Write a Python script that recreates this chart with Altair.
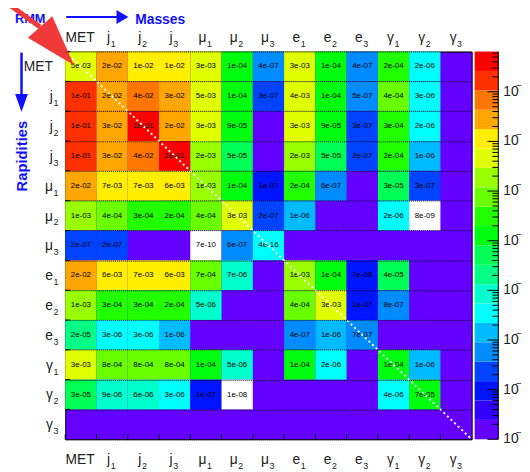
import altair as alt
import pandas as pd

FONT = "Liberation Sans"
LABEL_COLOR = "#222222"
BLUE = "#1010ff"
RED = "#f03a3a"

# ---------------- data ----------------
categories = ["MET", "j1", "j2", "j3", "μ1", "μ2", "μ3", "e1", "e2", "e3", "γ1", "γ2", "γ3"]
label_base = ["MET", "j", "j", "j", "μ", "μ", "μ", "e", "e", "e", "γ", "γ", "γ"]
label_sub = ["", "1", "2", "3", "1", "2", "3", "1", "2", "3", "1", "2", "3"]

N = None
row_MET = [5e-3, 2e-2, 1e-2, 1e-2, 3e-3, 1e-4, 4e-7, 3e-3, 1e-4, 4e-7, 2e-4, 2e-6, N]
row_j1 = [1e-1, 2e-2, 4e-2, 3e-2, 5e-3, 1e-4, 3e-7, 4e-3, 1e-4, 5e-7, 4e-4, 3e-6, N]
row_j2 = [1e-1, 3e-2, 2e-1, 2e-2, 3e-3, 9e-5, N, 3e-3, 9e-5, 3e-7, 3e-4, 2e-6, N]
row_j3 = [1e-1, 3e-2, 4e-2, 2e-1, 2e-3, 5e-5, N, 2e-3, 5e-5, 2e-7, 2e-4, 1e-6, N]
row_mu1 = [2e-2, 7e-3, 7e-3, 6e-3, 1e-3, 1e-4, 1e-7, 2e-4, 6e-7, N, 3e-5, 3e-7, N]
row_mu2 = [1e-3, 4e-4, 3e-4, 2e-4, 4e-4, 3e-3, 2e-7, 1e-6, N, N, 2e-6, 8e-9, N]
row_mu3 = [2e-7, 2e-7, N, N, 7e-10, 6e-7, 4e-16, N, N, N, N, N, N]
row_e1 = [2e-2, 6e-3, 7e-3, 6e-3, 7e-4, 7e-6, N, 1e-3, 1e-4, 7e-8, 4e-5, N, N]
row_e2 = [1e-3, 3e-4, 3e-4, 2e-4, 5e-6, N, N, 4e-4, 3e-3, 1e-7, 8e-7, N, N]
row_e3 = [2e-5, 3e-6, 3e-6, 1e-6, N, N, N, 4e-7, 1e-6, 7e-7, N, N, N]
row_g1 = [3e-3, 8e-4, 8e-4, 8e-4, 1e-4, 5e-6, N, 1e-4, 2e-6, N, 1e-4, 1e-6, N]
row_g2 = [3e-5, 9e-6, 6e-6, 3e-6, 1e-7, 1e-8, N, N, N, N, 4e-6, 7e-5, N]
row_g3 = [N] * 13
rows = [row_MET, row_j1, row_j2, row_j3, row_mu1, row_mu2, row_mu3,
        row_e1, row_e2, row_e3, row_g1, row_g2, row_g3]

# the (μ3, μ3) cell is drawn cyan in the reference although it prints 4e-16
color_override = {("μ3", "μ3"): 3e-6}

# colour bar (ROOT pretty palette, 20 contours, log z)
palette = ["#6300ff", "#3300ff", "#0014ff", "#0044ff", "#008bff", "#00bbff",
           "#00fffc", "#00ffcc", "#00ff85", "#00ff55", "#00ff0e", "#22ff00",
           "#69ff00", "#99ff00", "#e0ff00", "#ffee00", "#ffa700", "#ff7700",
           "#ff3000", "#ff0000"]
z_log_min = -7.98
band_w = 0.38
thresholds = [10 ** (z_log_min + k * band_w) for k in range(len(palette))]
color_range = ["white"] + palette

cb_log_min, cb_log_max = -8.0, -0.19
decade_exps = [-1, -2, -3, -4, -5, -6, -7, -8]
minor_mults = [2, 3, 4, 5, 6, 7, 8, 9]

# ---------------- tables ----------------
recs = []
for r, vals in zip(categories, rows):
    for c, v in zip(categories, vals):
        if v is None:
            continue
        recs.append(dict(row=r, col=c, v=v, z=color_override.get((r, c), v),
                         label=f"{v:.0e}"))
cells = pd.DataFrame(recs)

lab = pd.DataFrame({"cat": categories, "base": label_base, "sub": label_sub})

cb = pd.DataFrame({"k": list(range(len(palette)))})
cb["k1"] = cb["k"] + 1
cb["z"] = [10 ** (z_log_min + (k + 0.5) * band_w) for k in cb["k"]]

majors = pd.DataFrame({"t": [10.0 ** e for e in decade_exps],
                       "ten": ["10"] * len(decade_exps),
                       "exp": [f"−{-e}" for e in decade_exps]})
minor_vals = []
for e in decade_exps:
    for m in minor_mults:
        t = m * 10.0 ** e
        if t <= 10 ** cb_log_max:
            minor_vals.append(t)
minors = pd.DataFrame({"t": minor_vals})

one = pd.DataFrame({"a": [0]})

W, H = 412, 393


def band():
    return alt.Scale(type="band", domain=categories, paddingInner=0, paddingOuter=0)


cscale = alt.Scale(type="threshold", domain=thresholds, range=color_range)
grid_axis = alt.Axis(title=None, labels=False, ticks=False, domain=False, grid=True,
                     gridColor="black", gridDash=[1, 1], gridWidth=1, gridOpacity=0.85,
                     tickBand="extent", zindex=1)

heat = alt.Chart(cells).mark_rect().encode(
    x=alt.X("col:N", scale=band(), axis=grid_axis),
    y=alt.Y("row:N", scale=band(), axis=grid_axis),
    color=alt.Color("z:Q", scale=cscale, legend=None),
)

txt = alt.Chart(cells).mark_text(fontSize=8, font=FONT, color="black").encode(
    x=alt.X("col:N", scale=band(), axis=None),
    y=alt.Y("row:N", scale=band(), axis=None),
    text="label:N",
)

diag = alt.Chart(one).mark_rule(color="white", strokeWidth=2, strokeDash=[2, 3]).encode(
    x=alt.value(0), y=alt.value(0), x2=alt.value(W), y2=alt.value(H))

bot_ticks = alt.Chart(lab).mark_rule(color="black", strokeWidth=1).encode(
    x=alt.X("cat:N", scale=band(), axis=None, bandPosition=0),
    y=alt.value(H), y2=alt.value(H - 5))
left_ticks = alt.Chart(lab).mark_rule(color="black", strokeWidth=1).encode(
    y=alt.Y("cat:N", scale=band(), axis=None, bandPosition=0),
    x=alt.value(0), x2=alt.value(5))

# colour bar
CB_X0, CB_X1 = 415, 439
cb_rects = alt.Chart(cb).mark_rect().encode(
    y=alt.Y("k:Q", scale=alt.Scale(domain=[0, len(palette)], nice=False, zero=False), axis=None),
    y2="k1:Q",
    x=alt.value(CB_X0), x2=alt.value(CB_X1),
    color=alt.Color("z:Q", scale=cscale, legend=None),
)
logsc = alt.Scale(type="log", domain=[10 ** cb_log_min, 10 ** cb_log_max], nice=False)
cb_major = alt.Chart(majors).mark_rule(color="black", strokeWidth=1).encode(
    y=alt.Y("t:Q", scale=logsc, axis=None), x=alt.value(CB_X1 - 11), x2=alt.value(CB_X1))
cb_minor = alt.Chart(minors).mark_rule(color="black", strokeWidth=1).encode(
    y=alt.Y("t:Q", scale=logsc, axis=None), x=alt.value(CB_X1 - 6), x2=alt.value(CB_X1))
cb_line = alt.Chart(one).mark_rule(color="black", strokeWidth=1).encode(
    x=alt.value(CB_X1), y=alt.value(0), y2=alt.value(H))
cb_ten = alt.Chart(majors).mark_text(align="left", baseline="middle", fontSize=14,
                                     font=FONT, color=LABEL_COLOR).encode(
    y=alt.Y("t:Q", scale=logsc, axis=None), x=alt.value(CB_X1 + 5), text="ten:N")
cb_exp = alt.Chart(majors).mark_text(align="left", baseline="middle", fontSize=10, dy=-6,
                                     font=FONT, color=LABEL_COLOR).encode(
    y=alt.Y("t:Q", scale=logsc, axis=None), x=alt.value(CB_X1 + 18), text="exp:N")


# axis labels with subscripts
def hlabels(y_base, y_sub):
    out = []
    for bases, off in [(["MET"], 14), (["j"], -2), (["μ", "e", "γ"], 0.5)]:
        flt = alt.FieldOneOfPredicate(field="base", oneOf=bases)
        out.append(alt.Chart(lab).transform_filter(flt).mark_text(
            align="right", baseline="alphabetic", fontSize=14, font=FONT,
            color=LABEL_COLOR, dx=off).encode(
            x=alt.X("cat:N", scale=band(), axis=None), y=alt.value(y_base), text="base:N"))
        if bases != ["MET"]:
            out.append(alt.Chart(lab).transform_filter(flt).mark_text(
                align="left", baseline="alphabetic", fontSize=9, font=FONT,
                color=LABEL_COLOR, dx=off + 0.5).encode(
                x=alt.X("cat:N", scale=band(), axis=None), y=alt.value(y_sub), text="sub:N"))
    return out


top_labels = hlabels(-10, -5)
bottom_labels = hlabels(H + 25, H + 30)
left_base = alt.Chart(lab).mark_text(align="right", baseline="alphabetic", fontSize=14,
                                     font=FONT, color=LABEL_COLOR, dy=5).encode(
    y=alt.Y("cat:N", scale=band(), axis=None), x=alt.value(-12.5), text="base:N")
left_sub = alt.Chart(lab).mark_text(align="left", baseline="alphabetic", fontSize=9,
                                    font=FONT, color=LABEL_COLOR, dy=10).encode(
    y=alt.Y("cat:N", scale=band(), axis=None), x=alt.value(-12), text="sub:N")

# annotations
rmm = alt.Chart(one).mark_text(text="RMM", align="left", baseline="alphabetic", fontSize=13,
                               fontWeight="bold", font=FONT, color=BLUE).encode(
    x=alt.value(-51), y=alt.value(-29))
masses = alt.Chart(one).mark_text(text="Masses", align="left", baseline="alphabetic",
                                  fontSize=14, fontWeight="bold", font=FONT, color=BLUE).encode(
    x=alt.value(71), y=alt.value(-28))
rapid = alt.Chart(one).mark_text(text="Rapidities", align="center", baseline="middle",
                                 angle=270, fontSize=15, fontWeight="bold", font=FONT,
                                 color=BLUE).encode(x=alt.value(-43.5), y=alt.value(106))
h_line = alt.Chart(one).mark_rule(color=BLUE, strokeWidth=2.2).encode(
    x=alt.value(1), x2=alt.value(53), y=alt.value(-35), y2=alt.value(-35))
h_head = alt.Chart(one).mark_point(shape="M1,0L-1,-1.17L-1,1.17Z", size=144, filled=True,
                                   opacity=1, color=BLUE, strokeWidth=0).encode(
    x=alt.value(58), y=alt.value(-35))
v_line = alt.Chart(one).mark_rule(color=BLUE, strokeWidth=2.5).encode(
    x=alt.value(-44.3), x2=alt.value(-44.3), y=alt.value(1), y2=alt.value(44))
v_head = alt.Chart(one).mark_point(shape="M0,1L-0.72,-1L0.72,-1Z", size=324, filled=True,
                                   opacity=1, color=BLUE, strokeWidth=0).encode(
    x=alt.value(-44.3), y=alt.value(52))
red_shaft = alt.Chart(one).mark_rule(color=RED, strokeWidth=5).encode(
    x=alt.value(-63), y=alt.value(-52), x2=alt.value(-25.5), y2=alt.value(-25))
red_head = alt.Chart(one).mark_point(shape="M0,-1L0.635,1L-0.635,1Z", size=2704, angle=138.5,
                                     filled=True, opacity=1, color=RED, strokeWidth=0).encode(
    x=alt.value(-8.25), y=alt.value(-5.5))

layers = [heat, txt, diag, bot_ticks, left_ticks,
          cb_rects, cb_minor, cb_major, cb_line, cb_ten, cb_exp,
          *top_labels, *bottom_labels, left_base, left_sub,
          rmm, masses, rapid, h_line, h_head, v_line, v_head, red_shaft, red_head]

chart = alt.layer(*layers).resolve_scale(y="independent").properties(
    width=W, height=H,
    padding={"left": 58, "top": 41, "right": 51, "bottom": 30},
    autosize=alt.AutoSizeParams(type="none"),
).configure_view(stroke="black", strokeWidth=1, fill="#6300ff")

chart.save("out.html", embed_options={"renderer": "svg", "actions": False})
